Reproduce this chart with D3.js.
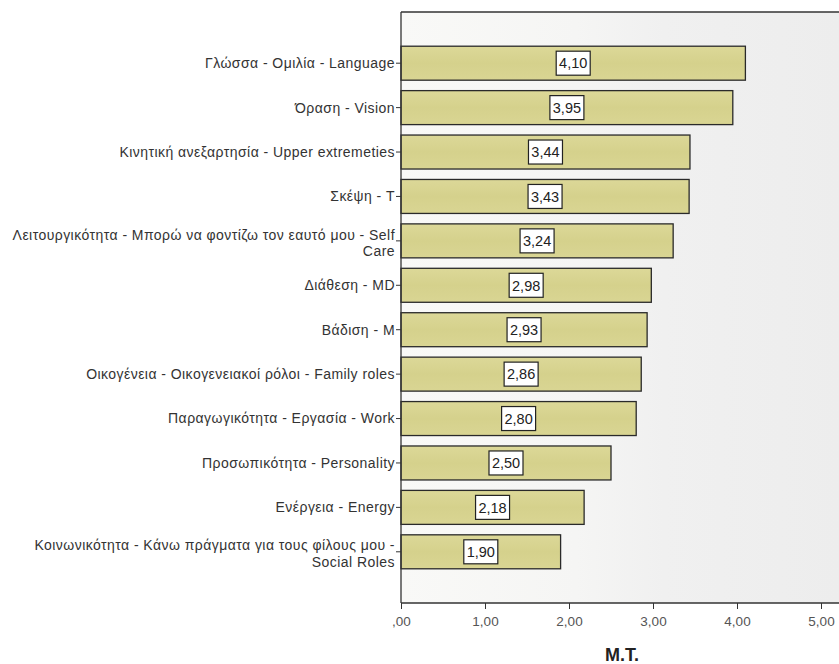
<!DOCTYPE html>
<html>
<head>
<meta charset="utf-8">
<script src="https://cdn.jsdelivr.net/npm/d3@7"></script>
<style>
html,body{margin:0;padding:0;background:#fff;}
svg{display:block;font-family:"Liberation Sans",Arial,sans-serif;}
</style>
</head>
<body>
<svg id="chart" width="839" height="664"></svg>
<script>
const categories = [
  "Γλώσσα - Ομιλία - Language",
  "Όραση - Vision",
  "Κινητική ανεξαρτησία - Upper extremeties",
  "Σκέψη - T",
  "Λειτουργικότητα - Μπορώ να φοντίζω τον εαυτό μου - Self|Care",
  "Διάθεση - MD",
  "Βάδιση - M",
  "Οικογένεια - Οικογενειακοί ρόλοι - Family roles",
  "Παραγωγικότητα - Εργασία - Work",
  "Προσωπικότητα - Personality",
  "Ενέργεια - Energy",
  "Κοινωνικότητα - Κάνω πράγματα για τους φίλους μου -|Social Roles"
];
const values = [4.10, 3.95, 3.44, 3.43, 3.24, 2.98, 2.93, 2.86, 2.80, 2.50, 2.18, 1.90];
const xTicks = [0, 1, 2, 3, 4, 5];
const xTickLabels = [",00", "1,00", "2,00", "3,00", "4,00", "5,00"];
const xTitle = "M.T.";

(function() {
const svg = d3.select("#chart");
const pLeft = 401, pRight = 839, pTop = 12, pBottom = 603;

const x = d3.scaleLinear().domain([0, 5]).range([pLeft, pLeft + 5 * 84]);
const y = d3.scaleBand().domain(categories).range([pTop, pBottom]).paddingInner(0.235).paddingOuter(0.77);

const defs = svg.append("defs");
const bg = defs.append("linearGradient").attr("id", "bg").attr("x1", "0").attr("x2", "1").attr("y1", "0").attr("y2", "0");
bg.append("stop").attr("offset", "0").attr("stop-color", "#f9f9f7");
bg.append("stop").attr("offset", "0.4").attr("stop-color", "#f5f5f4");
bg.append("stop").attr("offset", "0.6").attr("stop-color", "#f0f0f0");
bg.append("stop").attr("offset", "1").attr("stop-color", "#ededed");
const bf = defs.append("linearGradient").attr("id", "barfill").attr("x1", "0").attr("x2", "0").attr("y1", "0").attr("y2", "1");
bf.append("stop").attr("offset", "0").attr("stop-color", "#dcd898");
bf.append("stop").attr("offset", "0.5").attr("stop-color", "#d5d18c");
bf.append("stop").attr("offset", "1").attr("stop-color", "#d9d593");

svg.append("rect").attr("x", pLeft).attr("y", pTop).attr("width", pRight - pLeft).attr("height", pBottom - pTop).attr("fill", "url(#bg)");

// bars
svg.append("g").selectAll("rect").data(values).join("rect")
  .attr("x", x(0))
  .attr("y", (d, i) => y(categories[i]))
  .attr("width", d => x(d) - x(0))
  .attr("height", y.bandwidth())
  .attr("fill", "url(#barfill)")
  .attr("stroke", "#2a2a2a")
  .attr("stroke-width", 1.3);

// value labels
const fmt = v => d3.format(".2f")(v).replace(".", ",");
const lg = svg.append("g").selectAll("g").data(values).join("g")
  .attr("transform", (d, i) => `translate(${(x(0) + x(d)) / 2},${y(categories[i]) + y.bandwidth() / 2})`);
lg.append("rect").attr("x", -17).attr("y", -12).attr("width", 34).attr("height", 24)
  .attr("fill", "#fff").attr("stroke", "#222").attr("stroke-width", 1.2);
lg.append("text").attr("text-anchor", "middle").attr("dy", "0.36em")
  .attr("font-size", 14.5).attr("fill", "#222").text(d => fmt(d));

// frame line
svg.append("line").attr("x1", pLeft).attr("x2", pRight).attr("y1", pTop).attr("y2", pTop).attr("stroke", "#333").attr("stroke-width", 1.3);

// x axis
const xAxis = d3.axisBottom(x).tickValues(xTicks).tickFormat((d, i) => xTickLabels[i]).tickSize(6).tickSizeOuter(0);
const gx = svg.append("g").attr("transform", `translate(0,${pBottom})`).call(xAxis);
gx.select(".domain").attr("stroke", "#333").attr("stroke-width", 1.3).attr("d", `M${pLeft},0H${pRight}`);
gx.selectAll(".tick line").attr("stroke", "#333");
gx.selectAll(".tick text").attr("font-size", 13.5).attr("fill", "#555").attr("dy", "1.05em").attr("font-family", "Liberation Sans, Arial, sans-serif");

// y axis
const yAxis = d3.axisLeft(y).tickSize(5).tickSizeOuter(0).tickFormat("");
const gy = svg.append("g").attr("transform", `translate(${pLeft},0)`).call(yAxis);
gy.select(".domain").attr("stroke", "#333").attr("stroke-width", 1.3).attr("d", `M0,${pTop}V${pBottom}`);
gy.selectAll(".tick line").attr("stroke", "#333");

// category labels
const cl = svg.append("g").selectAll("text").data(categories).join("text")
  .attr("text-anchor", "end")
  .attr("font-size", 14)
  .attr("letter-spacing", 0.45)
  .attr("fill", "#333")
  .attr("transform", d => `translate(${pLeft - 6},${y(d) + y.bandwidth() / 2})`);
cl.each(function(d) {
  const lines = d.split("|");
  const t = d3.select(this);
  lines.forEach((ln, j) => {
    t.append("tspan").attr("x", 0)
      .attr("y", (j - (lines.length - 1) / 2) * 16.5 + (lines.length > 1 ? 2 : 0))
      .attr("dy", "0.35em").text(ln);
  });
});

// x title
svg.append("text").attr("x", 622).attr("y", 661).attr("text-anchor", "middle")
  .attr("font-size", 18).attr("font-weight", "bold").attr("fill", "#222").text(xTitle);
})();
</script>
</body>
</html>
